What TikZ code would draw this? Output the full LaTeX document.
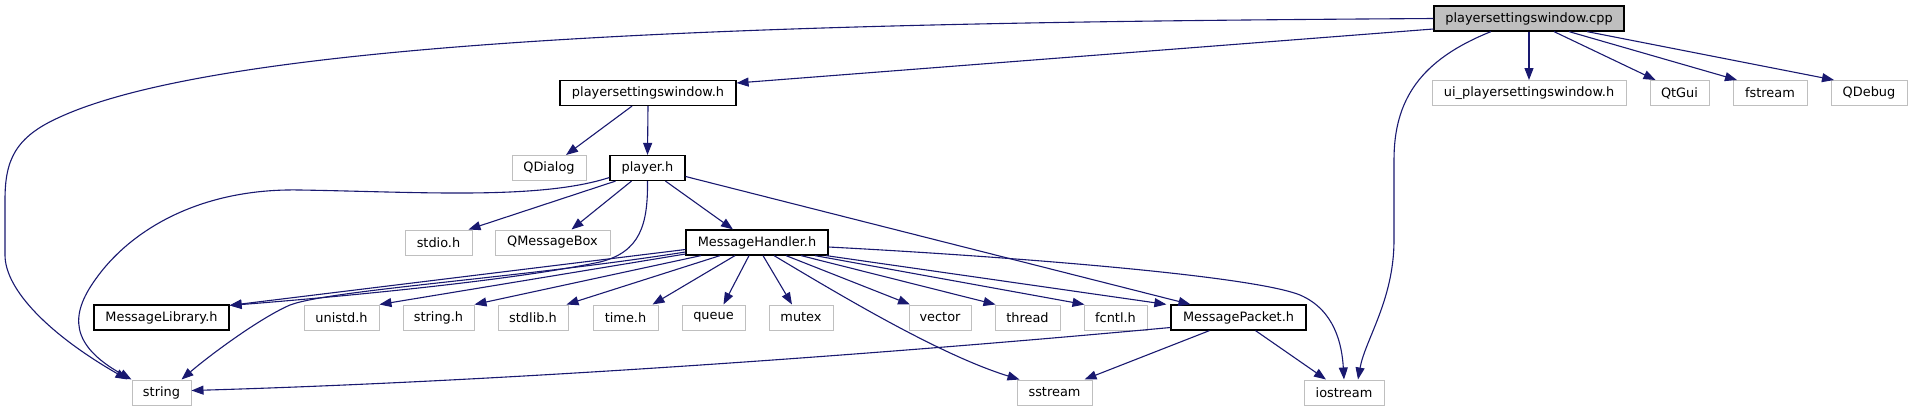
\documentclass[tikz,border=0pt]{standalone}
\usepackage{fontspec}
\setmainfont{DejaVu Sans}
\usetikzlibrary{arrows.meta}
\definecolor{edgec}{HTML}{191970}
\definecolor{grayb}{HTML}{BFBFBF}
\begin{document}
\begin{tikzpicture}[x=1bp,y=-1bp,
  every node/.style={font=\fontsize{12.9bp}{15bp}\selectfont, inner sep=0pt, minimum height=25bp, anchor=center},
  gbox/.style={draw=grayb, line width=1bp, fill=white},
  dbox/.style={draw=black, line width=1.2bp, fill=white},
  rbox/.style={draw=black, line width=1.2bp, fill=grayb},
  dep/.style={draw=edgec, line width=1.1bp, -{Triangle[length=12bp,width=9bp]}}]
\useasboundingbox (0,0) rectangle (1912,411);
% row 0
\node[rbox, minimum width=190bp] (cpp) at (1529,18.5) {playersettingswindow.cpp};
% row 1
\node[dbox, minimum width=176bp] (pswh) at (648,93) {playersettingswindow.h};
\node[gbox, minimum width=194bp] (ui) at (1529,93) {ui\_playersettingswindow.h};
\node[gbox, minimum width=59bp] (qtgui) at (1679.5,93) {QtGui};
\node[gbox, minimum width=74bp] (fstream) at (1770,93) {fstream};
\node[gbox, minimum width=76bp] (qdebug) at (1869,93) {QDebug};
% row 2
\node[gbox, minimum width=74bp] (qdialog) at (549,168) {QDialog};
\node[dbox, minimum width=75bp] (player) at (647.5,168) {player.h};
% row 3
\node[gbox, minimum width=67bp] (stdio) at (438.5,242.5) {stdio.h};
\node[gbox, minimum width=115bp] (qmb) at (552.5,242.5) {QMessageBox};
\node[dbox, minimum width=142bp] (mh) at (757,242.5) {MessageHandler.h};
% row 4
\node[dbox, minimum width=135bp] (ml) at (161.5,317.5) {MessageLibrary.h};
\node[gbox, minimum width=75bp] (unistd) at (341.5,317.5) {unistd.h};
\node[gbox, minimum width=71bp] (stringh) at (438.5,317.5) {string.h};
\node[gbox, minimum width=70bp] (stdlib) at (533,317.5) {stdlib.h};
\node[gbox, minimum width=65bp] (timeh) at (625.5,317.5) {time.h};
\node[gbox, minimum width=63bp] (queue) at (713.5,317.5) {queue};
\node[gbox, minimum width=64bp] (mutex) at (801,317.5) {mutex};
\node[gbox, minimum width=62bp] (vector) at (940,317.5) {vector};
\node[gbox, minimum width=65bp] (thread) at (1027.5,317.5) {thread};
\node[gbox, minimum width=63bp] (fcntl) at (1115.5,317.5) {fcntl.h};
\node[dbox, minimum width=135bp] (mp) at (1238.5,317.5) {MessagePacket.h};
% row 5
\node[gbox, minimum width=59bp] (string) at (161.5,392.5) {string};
\node[gbox, minimum width=75bp] (sstream) at (1054.5,392.5) {sstream};
\node[gbox, minimum width=80bp] (iostream) at (1344,392.5) {iostream};

% edges from cpp
\draw[dep] (cpp.west) .. controls (900,22) and (250,30) .. (60,117)
  .. controls (15,137) and (5,160) .. (5,200) -- (5,255)
  .. controls (5,290) and (50,335) .. ([xshift=-4bp]string.north west);
\draw[dep] ([yshift=-10.5bp]cpp.west) -- ([yshift=10bp]pswh.east);
\draw[dep] (cpp.south) -- (ui.north);
\draw[dep] ([xshift=25bp]cpp.south) -- ([xshift=-24bp]qtgui.north);
\draw[dep] ([xshift=40bp]cpp.south) -- ([xshift=-33bp]fstream.north);
\draw[dep] ([xshift=58bp]cpp.south) -- ([xshift=-35bp]qdebug.north);
\draw[dep] ([xshift=-38bp]cpp.south) .. controls (1420,60) and (1394,100) .. (1394,160)
  -- (1394,240) .. controls (1394,300) and (1365,340) .. ([xshift=14bp]iostream.north);

% edges from playersettingswindow.h
\draw[dep] ([xshift=-16bp]pswh.south) -- ([xshift=17bp]qdialog.north);
\draw[dep] (pswh.south) -- (player.north);

% edges from player.h
\draw[dep] ([yshift=-9.5bp]player.west) .. controls (540,200) and (420,192) .. (300,190)
  .. controls (200,188) and (130,230) .. (95,280)
  .. controls (70,315) and (70,345) .. (string.north west);
\draw[dep] ([xshift=-32bp]player.south) -- ([xshift=30bp]stdio.north);
\draw[dep] ([xshift=-16bp]player.south) -- ([xshift=19bp]qmb.north);
\draw[dep] (player.south) .. controls (648,225) and (640,252) .. (600,262)
  .. controls (500,283) and (300,300) .. ([yshift=-1bp]ml.north east);
\draw[dep] ([xshift=18bp]player.south) -- ([xshift=-24bp]mh.north);
\draw[dep] ([yshift=-8.5bp]player.east) -- ([xshift=-48bp]mp.north);

% edges from MessageHandler.h
\draw[dep] ([yshift=-7bp]mh.west) -- ([yshift=-1bp]ml.north east);
\draw[dep] ([yshift=-9.5bp]mh.west) .. controls (520,278) and (330,290) .. (290,305)
  .. controls (260,318) and (210,355) .. ([xshift=-10bp]string.north east);
\draw[dep] ([yshift=-11.5bp]mh.west) -- (unistd.north east);
\draw[dep] ([xshift=-56bp]mh.south) -- (stringh.north east);
\draw[dep] ([xshift=-37bp]mh.south) -- ([xshift=-2bp]stdlib.north east);
\draw[dep] ([xshift=-22bp]mh.south) -- ([xshift=-6bp]timeh.north east);
\draw[dep] ([xshift=-8bp]mh.south) -- ([xshift=10bp]queue.north);
\draw[dep] ([xshift=6bp]mh.south) -- ([xshift=-9bp]mutex.north);
\draw[dep] ([xshift=17bp]mh.south) .. controls (840,295) and (940,355) .. ([xshift=-35bp]sstream.north);
\draw[dep] ([xshift=29bp]mh.south) -- ([xshift=-30bp]vector.north);
\draw[dep] ([xshift=44bp]mh.south) -- ([xshift=-32bp]thread.north);
\draw[dep] ([xshift=58bp]mh.south) -- ([xshift=-31bp]fcntl.north);
\draw[dep] ([xshift=69bp]mh.south) -- ([xshift=-4bp]mp.north west);
\draw[dep] ([yshift=-4.5bp]mh.east) .. controls (1000,256) and (1250,275) .. (1300,295)
  .. controls (1335,310) and (1342,345) .. (iostream.north);

% edges from MessagePacket.h
\draw[dep] ([yshift=-10bp]mp.west) .. controls (950,348) and (550,380) .. ([yshift=2bp]string.east);
\draw[dep] ([xshift=-29bp]mp.south) -- ([xshift=30bp]sstream.north);
\draw[dep] ([xshift=17bp]mp.south) -- ([xshift=-18bp]iostream.north);
\end{tikzpicture}
\end{document}
